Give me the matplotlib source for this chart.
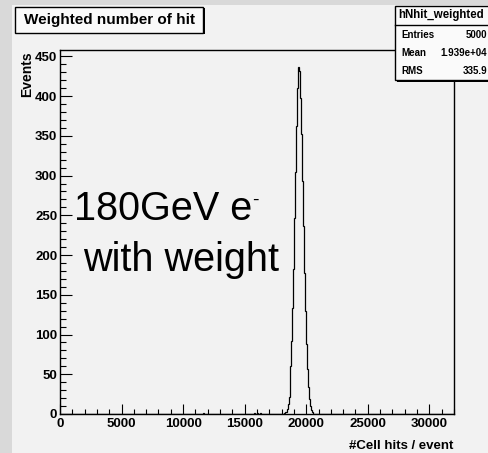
import numpy as np
import matplotlib
matplotlib.use("Agg")
import matplotlib.pyplot as plt
from matplotlib.patches import Rectangle

# histogram binning: 400 bins of 80 hits over 0..32000
x_lo, x_hi, bin_w = 0, 32000, 80

# weighted number of hits, non-empty bins (left edge of each bin)
peak_start = 18400
peak_counts = [6, 12, 22, 38, 61, 92, 134, 183, 246, 304, 362, 410, 436,
               431, 398, 352, 293, 236, 178, 129, 88, 57, 34, 19, 10, 5, 2]
# a few stray events outside the peak
stray_x = [11600, 15760, 16000, 16240, 18160, 18240, 18320]
stray_n = [1, 1, 1, 1, 1, 2, 3]

hist_name = "hNhit_weighted"
stat_keys = ["Entries", "Mean", "RMS"]
stat_vals = ["5000", "1.939e+04", "335.9"]

plt.rcParams["font.family"] = ["Liberation Sans", "DejaVu Sans"]

edges = np.arange(x_lo, x_hi + bin_w, bin_w)
counts = np.zeros(len(edges) - 1)
i0 = (peak_start - x_lo) // bin_w
counts[i0:i0 + len(peak_counts)] = peak_counts
for x, n in zip(stray_x, stray_n):
    counts[(x - x_lo) // bin_w] = n

W, H = 489, 453
fig = plt.figure(figsize=(W / 100, H / 100), dpi=100)
fig.patch.set_facecolor("#f2f2f2")


def px(x, y):
    return x / W, 1 - y / H


# canvas border strips (left and top)
fig.patches.append(Rectangle((0, 0), 12 / W, 1, transform=fig.transFigure,
                             facecolor="#d9d9d9", edgecolor="none", zorder=0))
fig.patches.append(Rectangle((0, 1 - 5 / H), 1, 5 / H, transform=fig.transFigure,
                             facecolor="#d9d9d9", edgecolor="none", zorder=0))

ax = fig.add_axes([60 / W, (H - 414) / H, (454 - 60) / W, (414 - 50) / H])
ax.set_facecolor("#f2f2f2")
ax.stairs(counts, edges, color="black", lw=0.9)
ax.set_xlim(x_lo, x_hi)
ax.set_ylim(0, 458)

ax.set_xticks(np.arange(0, 30001, 5000))
ax.set_xticks(np.arange(0, 32001, 1000), minor=True)
ax.set_yticks(np.arange(0, 451, 50))
ax.set_yticks(np.arange(0, 458, 10), minor=True)
ax.tick_params(axis="x", which="major", direction="in", length=7.2, width=0.8,
               pad=3, labelsize=9.5)
ax.tick_params(axis="x", which="minor", direction="in", length=3.6, width=0.8)
ax.tick_params(axis="y", which="major", direction="in", length=8.6, width=0.8,
               pad=2, labelsize=9.5)
ax.tick_params(axis="y", which="minor", direction="in", length=4.3, width=0.8)
for lab in ax.get_xticklabels() + ax.get_yticklabels():
    lab.set_fontweight("bold")
for sp in ax.spines.values():
    sp.set_linewidth(1.0)

fig.text(*px(453, 446), "#Cell hits / event", ha="right", va="center",
         fontsize=9.5, fontweight="bold")
fig.text(*px(27, 51), "Events", rotation=90, ha="center", va="top",
         fontsize=10, fontweight="bold")

# title box with shadow
fig.patches.append(Rectangle(px(16, 34), 189 / W, 26 / H, transform=fig.transFigure,
                             facecolor="black", edgecolor="none", zorder=3))
fig.patches.append(Rectangle(px(15, 33), 188 / W, 26 / H, transform=fig.transFigure,
                             facecolor="#fafafa", edgecolor="black", lw=1, zorder=4))
fig.text(*px(110, 20), "Weighted number of hit", ha="center", va="center",
         fontsize=11, fontweight="bold", zorder=5)

# statistics box
fig.patches.append(Rectangle(px(397, 82), 100 / W, 76 / H, transform=fig.transFigure,
                             facecolor="black", edgecolor="none", zorder=3))
fig.patches.append(Rectangle(px(395, 80), 100 / W, 74 / H, transform=fig.transFigure,
                             facecolor="#fafafa", edgecolor="black", lw=1, zorder=4))
fig.add_artist(plt.Line2D([395 / W, 1], [1 - 25 / H] * 2, transform=fig.transFigure,
                          color="black", lw=1, zorder=5))
fig.text(*px(441, 15), hist_name, ha="center", va="center",
         fontsize=8.3, fontweight="bold", zorder=6)
for k, (key, val) in enumerate(zip(stat_keys, stat_vals)):
    y = 35 + 18 * k
    fig.text(*px(401, y), key, ha="left", va="center", fontsize=7,
             fontweight="bold", zorder=6)
    fig.text(*px(487, y), val, ha="right", va="center", fontsize=7,
             fontweight="bold", zorder=6)

# beam label
fig.text(*px(74, 220), "180GeV e", ha="left", va="baseline", fontsize=28.5,
         family="Liberation Sans", zorder=6)
fig.text(*px(252, 205), "-", ha="left", va="baseline", fontsize=14,
         family="Liberation Sans", zorder=6)
fig.text(*px(83, 271), "with weight", ha="left", va="baseline", fontsize=28.5,
         family="Liberation Sans", zorder=6)

fig.savefig("out.png", dpi=100, facecolor=fig.get_facecolor())
